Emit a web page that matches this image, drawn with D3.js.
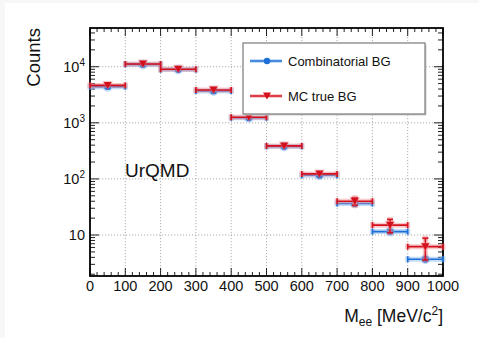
<!DOCTYPE html>
<html>
<head>
<meta charset="utf-8">
<script src="https://cdn.jsdelivr.net/npm/d3@7"></script>
<style>
  html, body { margin: 0; padding: 0; background: #f7f7f7; }
  svg { display: block; font-family: "Liberation Sans", Arial, Helvetica, sans-serif; }
</style>
</head>
<body>
<svg id="chart" width="479" height="338"></svg>
<script>
// bin lower edges (MeV/c^2)
const binEdges = [0, 100, 200, 300, 400, 500, 600, 700, 800, 900];
const binWidth = 100;

// Combinatorial BG
const combValues = [4400, 11000, 8900, 3700, 1230, 380, 116, 36.5, 11.5, 3.7];
const combErrors = [40, 60, 55, 35, 20, 10, 5, 2, 1, 0.4];

// MC true BG
const mcValues = [4650, 11200, 9000, 3850, 1260, 388, 123, 40, 15, 6.2];
const mcErrors = [70, 106, 95, 62, 36, 20, 11, 6.3, 4, 2.6];

const xTicks = [0, 100, 200, 300, 400, 500, 600, 700, 800, 900, 1000];
const yTicks = [10, 100, 1000, 10000];
const yTickLabels = [["10", ""], ["10", "2"], ["10", "3"], ["10", "4"]];

const W = 479, H = 338;
const margin = { top: 28, right: 36, bottom: 62, left: 90 };
const iw = W - margin.left - margin.right;
const ih = H - margin.top - margin.bottom;

const svg = d3.select("#chart");

// white pad area
svg.append("rect").attr("x", 5).attr("y", 3).attr("width", W - 5).attr("height", H - 3).attr("fill", "#fff");

const x = d3.scaleLinear().domain([0, 1000]).range([0, iw]);
const y = d3.scaleLog().domain([1.86, 49000]).range([ih, 0]);

const g = svg.append("g").attr("transform", `translate(${margin.left},${margin.top})`);

// grid
g.append("g").selectAll("line")
    .data(xTicks.slice(1, -1))
    .enter().append("line")
    .attr("x1", d => x(d)).attr("x2", d => x(d))
    .attr("y1", 0).attr("y2", ih)
    .attr("stroke", "#9a9a9a").attr("stroke-width", 0.8)
    .attr("stroke-dasharray", "1.2,1.8");

g.append("g").selectAll("line")
    .data(yTicks)
    .enter().append("line")
    .attr("x1", 0).attr("x2", iw)
    .attr("y1", d => y(d)).attr("y2", d => y(d))
    .attr("stroke", "#9a9a9a").attr("stroke-width", 0.8)
    .attr("stroke-dasharray", "1.2,1.8");

// ticks (drawn inside, ROOT style)
const xMinor = d3.range(0, 1001, 20);
const yMinor = [];
[1, 10, 100, 1000, 10000].forEach(dec => {
    for (let k = 1; k < 10; k++) {
        const v = dec * k;
        if (v >= 1.86 && v <= 49000) yMinor.push(v);
    }
});

const tickColor = "#222";
const ticks = g.append("g").attr("stroke", tickColor).attr("stroke-width", 1);

xMinor.forEach(v => {
    const len = v % 100 === 0 ? 8 : 4;
    ticks.append("line").attr("x1", x(v)).attr("x2", x(v)).attr("y1", ih).attr("y2", ih - len);
    ticks.append("line").attr("x1", x(v)).attr("x2", x(v)).attr("y1", 0).attr("y2", len);
});

yMinor.forEach(v => {
    const major = yTicks.includes(v);
    const len = major ? 9 : 5;
    ticks.append("line").attr("x1", 0).attr("x2", len).attr("y1", y(v)).attr("y2", y(v));
    ticks.append("line").attr("x1", iw).attr("x2", iw - len).attr("y1", y(v)).attr("y2", y(v));
});

// frame
g.append("rect").attr("x", 0).attr("y", 0).attr("width", iw).attr("height", ih)
    .attr("fill", "none").attr("stroke", "#000").attr("stroke-width", 1.8);

// x tick labels
g.append("g").selectAll("text")
    .data(xTicks)
    .enter().append("text")
    .attr("x", d => x(d))
    .attr("y", ih + 15)
    .attr("text-anchor", "middle")
    .attr("font-size", "14.5px")
    .attr("fill", "#111")
    .text(d => d);

// y tick labels
yTicks.forEach((v, i) => {
    const t = g.append("text")
        .attr("x", -5)
        .attr("y", y(v) + 5)
        .attr("text-anchor", "end")
        .attr("font-size", "14.5px")
        .attr("fill", "#111");
    t.append("tspan").text(yTickLabels[i][0]);
    if (yTickLabels[i][1]) {
        t.append("tspan").attr("font-size", "10px").attr("dy", -6).text(yTickLabels[i][1]);
    }
});

// axis titles
svg.append("text")
    .attr("transform", `translate(40,${margin.top}) rotate(-90)`)
    .attr("text-anchor", "end")
    .attr("font-size", "18.5px")
    .attr("fill", "#111")
    .text("Counts");

const xt = svg.append("text")
    .attr("x", margin.left + iw)
    .attr("y", 322)
    .attr("text-anchor", "end")
    .attr("font-size", "17.5px")
    .attr("fill", "#111");
xt.append("tspan").text("M");
xt.append("tspan").attr("font-size", "12px").attr("dy", 4).text("ee");
xt.append("tspan").attr("dy", -4).text(" [MeV/c");
xt.append("tspan").attr("font-size", "12px").attr("dy", -7).text("2");
xt.append("tspan").attr("dy", 7).text("]");

// UrQMD label
g.append("text")
    .attr("x", 35)
    .attr("y", 149)
    .attr("font-size", "19px")
    .attr("fill", "#111")
    .text("UrQMD");

// data series
function drawSeries(values, errors, color, halo, marker) {
    const s = g.append("g");
    const data = binEdges.map((e, i) => ({ lo: e, hi: e + binWidth, v: values[i], err: errors[i] }));
    const layers = [
        { stroke: halo, width: 5, opacity: 0.45 },
        { stroke: color, width: 1.6, opacity: 1 }
    ];
    layers.forEach(L => {
        const lg = s.append("g").attr("stroke", L.stroke).attr("stroke-width", L.width)
            .attr("stroke-opacity", L.opacity).attr("stroke-linecap", "butt");
        data.forEach(d => {
            const cy = y(d.v);
            lg.append("line").attr("x1", x(d.lo)).attr("x2", x(d.hi)).attr("y1", cy).attr("y2", cy);
            lg.append("line").attr("x1", x(d.lo)).attr("x2", x(d.lo)).attr("y1", cy - 3).attr("y2", cy + 3);
            lg.append("line").attr("x1", x(d.hi)).attr("x2", x(d.hi)).attr("y1", cy - 3).attr("y2", cy + 3);
            const cx = x(d.lo + binWidth / 2);
            const yt = y(d.v + d.err), yb = y(Math.max(d.v - d.err, 1.9));
            if (yb - yt > 6) {
                lg.append("line").attr("x1", cx).attr("x2", cx).attr("y1", yt).attr("y2", yb);
                lg.append("line").attr("x1", cx - 3).attr("x2", cx + 3).attr("y1", yt).attr("y2", yt);
                lg.append("line").attr("x1", cx - 3).attr("x2", cx + 3).attr("y1", yb).attr("y2", yb);
            }
        });
    });
    data.forEach(d => {
        const cx = x(d.lo + binWidth / 2), cy = y(d.v);
        if (marker === "circle") {
            s.append("circle").attr("cx", cx).attr("cy", cy).attr("r", 5).attr("fill", halo).attr("fill-opacity", 0.45);
            s.append("circle").attr("cx", cx).attr("cy", cy).attr("r", 3.4).attr("fill", color);
        } else {
            s.append("path").attr("d", `M${cx - 5.5},${cy - 4.5}L${cx + 5.5},${cy - 4.5}L${cx},${cy + 5}Z`)
                .attr("fill", halo).attr("fill-opacity", 0.45);
            s.append("path").attr("d", `M${cx - 4},${cy - 3.5}L${cx + 4},${cy - 3.5}L${cx},${cy + 3.5}Z`)
                .attr("fill", color);
        }
    });
}

drawSeries(combValues, combErrors, "#1c6fd6", "#7fb2ee", "circle");
drawSeries(mcValues, mcErrors, "#d4101c", "#f08a8f", "triangle");

// legend
const lg = svg.append("g").attr("transform", "translate(243,43)");
lg.append("rect").attr("x", 1.5).attr("y", 1.5).attr("width", 182).attr("height", 71).attr("fill", "#cfcfcf");
lg.append("rect").attr("width", 182).attr("height", 71).attr("fill", "#fff")
    .attr("stroke", "#7a7a7a").attr("stroke-width", 1.2);

const entries = [
    { label: "Combinatorial BG", color: "#1c6fd6", halo: "#7fb2ee", marker: "circle", yy: 18 },
    { label: "MC true BG", color: "#d4101c", halo: "#f08a8f", marker: "triangle", yy: 53 }
];
entries.forEach(e => {
    lg.append("line").attr("x1", 7).attr("x2", 39).attr("y1", e.yy).attr("y2", e.yy)
        .attr("stroke", e.halo).attr("stroke-opacity", 0.45).attr("stroke-width", 4);
    lg.append("line").attr("x1", 7).attr("x2", 39).attr("y1", e.yy).attr("y2", e.yy)
        .attr("stroke", e.color).attr("stroke-width", 1.5);
    const cx = 24, cy = e.yy;
    if (e.marker === "circle") {
        lg.append("circle").attr("cx", cx).attr("cy", cy).attr("r", 3.2).attr("fill", e.color);
    } else {
        lg.append("path").attr("d", `M${cx - 4},${cy - 3.5}L${cx + 4},${cy - 3.5}L${cx},${cy + 3.5}Z`).attr("fill", e.color);
    }
    lg.append("text").attr("x", 45).attr("y", e.yy + 4.5).attr("font-size", "13px").attr("fill", "#111").text(e.label);
});
</script>
</body>
</html>
